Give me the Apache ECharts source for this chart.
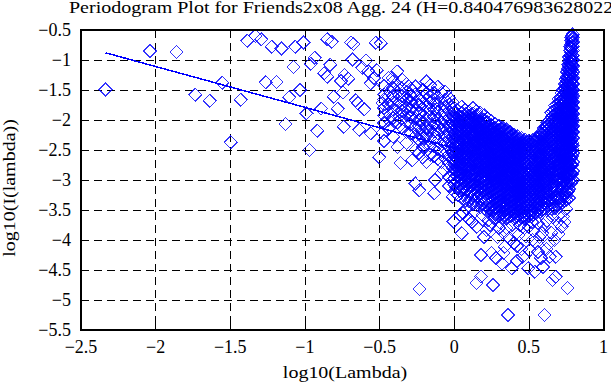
<!DOCTYPE html>
<html><head><meta charset="utf-8">
<script src="https://cdn.jsdelivr.net/npm/echarts@6/dist/echarts.min.js"></script>
<style>
html,body{margin:0;padding:0;background:#fff;}
#chart{width:611px;height:385px;}
#chart svg path{shape-rendering:crispEdges;}
</style></head><body><div id="chart"></div>
<script>
// ---- data ----
const titleText = 'Periodogram Plot for Friends2x08 Agg. 24 (H=0.840476983628022)';
const xName = 'log10(Lambda)';
const yName = 'log10(I(lambda))';
const xRange = [-2.5, 1, 0.5];
const yRange = [-5.5, -0.5, 0.5];

// fitted line end points
const fitX = [-2.336, 0.798];
const fitY = [-0.88, -3.014];

// individually readable points (left sparse part)
const sparsePts = [
[-2.336,-1.49],[-2.037,-0.85],[-1.86,-0.87],[-1.736,-1.58],[-1.637,-1.68],[-1.555,-1.38],[-1.497,-2.37],[-1.43,-1.66],
[-1.386,-0.68],[-1.333,-0.6],[-1.293,-0.655],[-1.263,-1.37],[-1.223,-0.78],[-1.19,-1.37],[-1.157,-0.81],[-1.13,-2.07],
[-1.106,-1.62],[-1.077,-1.12],[-1.064,-0.78],[-1.033,-1.5],[-1.01,-0.71],[-0.99,-1.89],[-0.97,-2.5],[-0.961,-1.06],
[-0.935,-0.96],[-0.917,-2.18],[-0.891,-1.81],[-0.87,-1.22],[-0.851,-1.28],[-0.851,-0.655],[-0.83,-1.08],[-0.82,-0.695],
[-0.807,-1.61],[-0.78,-1.81],[-0.758,-1.35],[-0.745,-1.54],[-0.74,-2.11],[-0.735,-1.25],[-0.71,-1.31],[-0.692,-0.71],
[-0.675,-0.73],[-0.681,-0.99],[-0.659,-1.67],[-0.647,-1.72],[-0.636,-2.16],[-0.617,-1.13],[-0.603,-1.82],[-0.592,-1.01],
[-0.575,-1.19],[-0.559,-2.22],[-0.56,-1.39],[-0.537,-1.3],[-0.526,-0.71],[-0.519,-1.17],[-0.503,-2.62],[-0.493,-0.72],
[-0.481,-1.72],[-0.48,-2.22]
];

// scattered points around the dense cloud (lower halo and outliers)
const haloPts = [
[-0.005,-3.69],[0.04,-3.58],[0.05,-3.89],[0.06,-3.55],[0.1,-3.65],[0.15,-3.78],[0.13,-3.55],[0.216,-3.83],[0.227,-3.67],
[0.27,-3.64],[0.3,-3.8],[0.338,-4.11],[0.37,-3.97],[0.35,-3.8],[0.415,-3.89],[0.44,-3.75],[0.48,-3.94],[0.525,-4.0],
[0.5,-3.78],[0.56,-3.72],[0.59,-3.89],[0.62,-3.68],[0.635,-4.06],[0.66,-3.62],[0.7,-3.6],[0.72,-3.78],[0.73,-3.61],[0.75,-3.48],
[0.18,-4.25],[0.25,-4.22],[0.33,-4.22],[0.32,-4.39],[0.385,-4.47],[0.46,-4.28],[0.495,-4.47],[0.505,-4.17],[0.54,-4.53],
[0.595,-4.45],[0.64,-4.28],[0.68,-4.28],[0.42,-4.1],[0.56,-4.2],
[0.149,-4.72],[0.18,-4.61],[0.26,-4.75],[0.36,-5.25],[0.603,-5.25],[0.658,-4.67],[0.68,-4.61],[0.758,-4.8],[-0.232,-4.82],
[-0.382,-1.19],[-0.415,-1.3],[-0.349,-1.33],[-0.36,-2.72],[-0.282,-2.67],[-0.128,-3.0],[-0.072,-2.83],
[0.08,-3.48],[0.12,-3.7],[0.19,-3.58],[0.2,-3.95],[0.24,-3.75],[0.29,-3.95],[0.31,-3.72],[0.33,-3.88],[0.39,-3.75],
[0.4,-4.05],[0.43,-3.92],[0.45,-4.15],[0.47,-3.8],[0.52,-3.7],[0.53,-3.85],[0.55,-4.05],[0.57,-3.95],[0.6,-3.75],
[0.62,-4.15],[0.65,-3.88],[0.67,-4.0],[0.69,-3.7],[0.7,-3.9],[0.74,-3.7],[0.28,-4.3],[0.42,-4.35],[0.58,-4.3]
];

// middle band, x from -0.5 to 0 (columns of points)
const bandX = [-0.47,-0.44,-0.41,-0.38,-0.35,-0.32,-0.29,-0.26,-0.235,-0.21,-0.185,-0.16,-0.135,-0.11,-0.085,-0.06,-0.035,-0.01];
const bandY = [
[-1.43,-1.58,-1.66,-1.8,-1.93,-2.05,-2.35],
[-1.3,-1.5,-1.62,-1.74,-1.88,-2.0,-2.14],
[-1.36,-1.47,-1.6,-1.71,-1.83,-1.97,-2.28],
[-1.42,-1.55,-1.67,-1.78,-1.9,-2.04,-2.45],
[-1.47,-1.6,-1.73,-1.85,-1.98,-2.12],
[-1.4,-1.53,-1.66,-1.79,-1.91,-2.03,-2.2,-2.38],
[-1.48,-1.6,-1.7,-1.83,-1.95,-2.08,-2.22],
[-1.44,-1.57,-1.71,-1.85,-1.98,-2.12,-2.27,-2.5,-3.06],
[-1.64,-1.75,-1.88,-2.0,-2.1,-2.21,-2.33,-2.55,-3.17],
[-1.5,-1.62,-1.73,-1.84,-1.96,-2.06,-2.18,-2.3,-2.45,-2.62],
[-1.36,-1.56,-1.67,-1.78,-1.9,-2.02,-2.14,-2.26,-2.4,-2.7],
[-1.42,-1.6,-1.71,-1.82,-1.94,-2.05,-2.17,-2.3,-2.43,-2.58],
[-1.55,-1.72,-1.83,-1.95,-2.07,-2.19,-2.31,-2.44,-2.6,-3.22],
[-1.45,-1.62,-1.74,-1.86,-1.98,-2.1,-2.22,-2.35,-2.48,-2.65],
[-1.55,-1.68,-1.8,-1.92,-2.04,-2.16,-2.28,-2.4,-2.53,-2.7,-2.88],
[-1.53,-1.66,-1.78,-1.9,-2.02,-2.14,-2.26,-2.38,-2.5,-2.64],
[-1.62,-1.74,-1.86,-1.98,-2.1,-2.22,-2.34,-2.46,-2.58,-2.72,-2.95,-3.1],
[-1.7,-1.82,-1.94,-2.06,-2.18,-2.3,-2.42,-2.54,-2.66,-2.8,-3.0,-3.28]
];

// dense cloud, x from 0 to 0.8 (columns of points)
const coreX = [0,0.025,0.05,0.075,0.1,0.125,0.15,0.175,0.2,0.225,0.25,0.275,0.3,0.325,0.35,0.375,0.4,0.425,0.45,0.475,0.5,0.525,0.55,0.575,0.6,0.625,0.65,0.675,0.7,0.72,0.74,0.755,0.77,0.783,0.795];
const coreY = [
[-1.8,-1.87,-1.95,-2.02,-2.09,-2.16,-2.24,-2.31,-2.38,-2.45,-2.53,-2.6,-2.67,-2.74,-2.82,-2.9,-2.98,-3.07,-3.2],
[-1.84,-1.91,-1.98,-2.06,-2.13,-2.2,-2.27,-2.35,-2.42,-2.49,-2.56,-2.64,-2.71,-2.78,-2.86,-2.94,-3.03,-3.12,-3.25],
[-1.78,-1.88,-1.95,-2.02,-2.1,-2.17,-2.24,-2.31,-2.39,-2.46,-2.53,-2.6,-2.68,-2.75,-2.82,-2.9,-2.98,-3.06,-3.16,-3.3],
[-1.83,-1.9,-1.97,-2.05,-2.12,-2.19,-2.27,-2.34,-2.41,-2.48,-2.56,-2.63,-2.7,-2.77,-2.85,-2.93,-3.01,-3.1,-3.2,-3.34],
[-1.86,-1.93,-2.0,-2.08,-2.15,-2.22,-2.29,-2.37,-2.44,-2.51,-2.58,-2.66,-2.73,-2.8,-2.88,-2.96,-3.04,-3.13,-3.23,-3.36],
[-1.8,-1.89,-1.96,-2.03,-2.11,-2.18,-2.25,-2.32,-2.4,-2.47,-2.54,-2.61,-2.69,-2.76,-2.83,-2.91,-2.99,-3.07,-3.16,-3.26,-3.4],
[-1.85,-1.92,-1.99,-2.07,-2.14,-2.21,-2.28,-2.36,-2.43,-2.5,-2.57,-2.65,-2.72,-2.79,-2.86,-2.94,-3.02,-3.1,-3.19,-3.29,-3.42],
[-1.88,-1.95,-2.03,-2.1,-2.17,-2.24,-2.32,-2.39,-2.46,-2.53,-2.61,-2.68,-2.75,-2.82,-2.9,-2.97,-3.05,-3.13,-3.22,-3.32,-3.45],
[-1.92,-1.99,-2.06,-2.14,-2.21,-2.28,-2.35,-2.43,-2.5,-2.57,-2.64,-2.72,-2.79,-2.86,-2.93,-3.01,-3.09,-3.17,-3.26,-3.36,-3.48],
[-1.97,-2.04,-2.11,-2.18,-2.26,-2.33,-2.4,-2.47,-2.55,-2.62,-2.69,-2.76,-2.84,-2.91,-2.98,-3.06,-3.14,-3.22,-3.31,-3.41,-3.52],
[-2.02,-2.09,-2.16,-2.24,-2.31,-2.38,-2.45,-2.53,-2.6,-2.67,-2.74,-2.82,-2.89,-2.96,-3.03,-3.11,-3.19,-3.27,-3.35,-3.44,-3.55],
[-2.06,-2.13,-2.2,-2.28,-2.35,-2.42,-2.49,-2.57,-2.64,-2.71,-2.78,-2.86,-2.93,-3.0,-3.07,-3.15,-3.23,-3.31,-3.39,-3.48,-3.58],
[-2.1,-2.17,-2.24,-2.31,-2.39,-2.46,-2.53,-2.6,-2.68,-2.75,-2.82,-2.89,-2.97,-3.04,-3.11,-3.19,-3.27,-3.35,-3.43,-3.51,-3.6],
[-2.13,-2.2,-2.27,-2.35,-2.42,-2.49,-2.56,-2.64,-2.71,-2.78,-2.85,-2.93,-3.0,-3.07,-3.14,-3.22,-3.3,-3.38,-3.46,-3.54,-3.62],
[-2.16,-2.23,-2.3,-2.38,-2.45,-2.52,-2.59,-2.67,-2.74,-2.81,-2.88,-2.96,-3.03,-3.1,-3.17,-3.25,-3.33,-3.41,-3.49,-3.57,-3.64],
[-2.2,-2.27,-2.34,-2.41,-2.49,-2.56,-2.63,-2.7,-2.78,-2.85,-2.92,-2.99,-3.07,-3.14,-3.21,-3.29,-3.37,-3.45,-3.53,-3.61],
[-2.24,-2.31,-2.38,-2.45,-2.52,-2.6,-2.67,-2.74,-2.81,-2.89,-2.96,-3.03,-3.1,-3.18,-3.25,-3.33,-3.41,-3.49,-3.56,-3.64],
[-2.27,-2.34,-2.41,-2.48,-2.56,-2.63,-2.7,-2.77,-2.85,-2.92,-2.99,-3.06,-3.14,-3.21,-3.28,-3.36,-3.44,-3.52,-3.6,-3.67],
[-2.3,-2.37,-2.44,-2.51,-2.59,-2.66,-2.73,-2.8,-2.88,-2.95,-3.02,-3.09,-3.17,-3.24,-3.31,-3.39,-3.47,-3.55,-3.62],
[-2.33,-2.4,-2.47,-2.55,-2.62,-2.69,-2.76,-2.84,-2.91,-2.98,-3.05,-3.13,-3.2,-3.27,-3.35,-3.43,-3.51,-3.58,-3.65],
[-2.35,-2.42,-2.49,-2.56,-2.64,-2.71,-2.78,-2.85,-2.93,-3.0,-3.07,-3.14,-3.22,-3.29,-3.36,-3.44,-3.52,-3.6],
[-2.34,-2.41,-2.48,-2.55,-2.63,-2.7,-2.77,-2.84,-2.92,-2.99,-3.06,-3.13,-3.21,-3.28,-3.35,-3.43,-3.51,-3.58],
[-2.3,-2.37,-2.44,-2.51,-2.59,-2.66,-2.73,-2.8,-2.88,-2.95,-3.02,-3.09,-3.17,-3.24,-3.31,-3.39,-3.47,-3.55],
[-2.22,-2.29,-2.36,-2.43,-2.51,-2.58,-2.65,-2.72,-2.8,-2.87,-2.94,-3.01,-3.09,-3.16,-3.23,-3.31,-3.39,-3.47,-3.53],
[-2.14,-2.21,-2.28,-2.35,-2.43,-2.5,-2.57,-2.64,-2.72,-2.79,-2.86,-2.93,-3.01,-3.08,-3.15,-3.23,-3.31,-3.39,-3.48],
[-2.04,-2.11,-2.18,-2.25,-2.33,-2.4,-2.47,-2.54,-2.62,-2.69,-2.76,-2.83,-2.91,-2.98,-3.05,-3.13,-3.21,-3.29,-3.37,-3.45],
[-1.88,-1.95,-2.02,-2.1,-2.17,-2.24,-2.31,-2.39,-2.46,-2.53,-2.6,-2.68,-2.75,-2.82,-2.89,-2.97,-3.05,-3.13,-3.21,-3.29,-3.38,-3.48],
[-1.76,-1.83,-1.9,-1.98,-2.05,-2.12,-2.19,-2.27,-2.34,-2.41,-2.48,-2.56,-2.63,-2.7,-2.77,-2.85,-2.93,-3.01,-3.09,-3.17,-3.26,-3.36,-3.47],
[-1.65,-1.72,-1.79,-1.87,-1.94,-2.01,-2.08,-2.16,-2.23,-2.3,-2.37,-2.45,-2.52,-2.59,-2.66,-2.74,-2.82,-2.9,-2.98,-3.06,-3.15,-3.25,-3.36,-3.45],
[-1.55,-1.62,-1.69,-1.77,-1.84,-1.91,-1.98,-2.06,-2.13,-2.2,-2.27,-2.35,-2.42,-2.49,-2.56,-2.64,-2.72,-2.8,-2.88,-2.96,-3.05,-3.15,-3.25,-3.38],
[-1.4,-1.47,-1.54,-1.62,-1.69,-1.76,-1.83,-1.91,-1.98,-2.05,-2.12,-2.2,-2.27,-2.34,-2.41,-2.49,-2.57,-2.65,-2.73,-2.81,-2.9,-3.0,-3.1,-3.22,-3.35],
[-1.2,-1.28,-1.35,-1.43,-1.5,-1.58,-1.65,-1.73,-1.8,-1.88,-1.95,-2.03,-2.1,-2.18,-2.25,-2.33,-2.4,-2.48,-2.56,-2.64,-2.72,-2.8,-2.89,-2.98,-3.08,-3.2,-3.33],
[-0.95,-1.02,-1.1,-1.17,-1.25,-1.32,-1.4,-1.47,-1.55,-1.62,-1.7,-1.77,-1.85,-1.92,-2.0,-2.07,-2.15,-2.22,-2.3,-2.37,-2.45,-2.53,-2.61,-2.7,-2.8,-2.9,-3.02,-3.15,-3.3],
[-0.62,-0.68,-0.74,-0.8,-0.87,-0.94,-1.01,-1.08,-1.15,-1.22,-1.29,-1.36,-1.44,-1.52,-1.6,-1.68,-1.76,-1.84,-1.92,-2.0,-2.08,-2.16,-2.24,-2.33,-2.42,-2.52,-2.63,-2.75,-2.9,-3.05],
[-0.57,-0.63,-0.7,-0.77,-0.84,-0.92,-1.0,-1.1,-1.2,-1.3,-1.4,-1.5,-1.6,-1.7,-1.8,-1.9,-2.0,-2.1,-2.2,-2.3,-2.42,-2.55,-2.7,-2.85,-3.0]
];

// dense cloud, in-between columns
const core2X = [0.0125,0.0375,0.0625,0.0875,0.1125,0.1375,0.1625,0.1875,0.2125,0.2375,0.2625,0.2875,0.3125,0.3375,0.3625,0.3875,0.4125,0.4375,0.4625,0.4875,0.5125,0.5375,0.5625,0.5875,0.6125,0.6375,0.6625,0.6875,0.71,0.73,0.748,0.763,0.777,0.789];
const core2Y = [
[-1.97,-2.04,-2.12,-2.19,-2.26,-2.34,-2.41,-2.48,-2.55,-2.63,-2.7,-2.77,-2.85,-2.93,-3.02,-3.12],
[-1.95,-2.02,-2.1,-2.17,-2.24,-2.31,-2.39,-2.46,-2.53,-2.6,-2.68,-2.75,-2.82,-2.9,-2.99,-3.08,-3.18],
[-1.93,-2.0,-2.08,-2.15,-2.22,-2.3,-2.37,-2.44,-2.52,-2.59,-2.66,-2.73,-2.81,-2.89,-2.97,-3.05,-3.14,-3.25],
[-1.97,-2.04,-2.11,-2.18,-2.26,-2.33,-2.4,-2.47,-2.55,-2.62,-2.69,-2.77,-2.84,-2.92,-3.0,-3.08,-3.17,-3.28],
[-1.91,-1.98,-2.05,-2.12,-2.2,-2.27,-2.34,-2.41,-2.49,-2.56,-2.63,-2.7,-2.78,-2.85,-2.93,-3.01,-3.1,-3.2,-3.31],
[-1.95,-2.02,-2.09,-2.17,-2.24,-2.31,-2.38,-2.46,-2.53,-2.6,-2.67,-2.75,-2.82,-2.9,-2.98,-3.06,-3.14,-3.24,-3.35],
[-1.98,-2.05,-2.12,-2.19,-2.27,-2.34,-2.41,-2.48,-2.56,-2.63,-2.7,-2.78,-2.85,-2.93,-3.01,-3.09,-3.17,-3.27,-3.38],
[-2.0,-2.07,-2.15,-2.22,-2.29,-2.36,-2.44,-2.51,-2.58,-2.65,-2.73,-2.8,-2.87,-2.95,-3.03,-3.11,-3.19,-3.29,-3.4],
[-2.05,-2.12,-2.2,-2.27,-2.34,-2.41,-2.49,-2.56,-2.63,-2.7,-2.78,-2.85,-2.92,-3.0,-3.08,-3.16,-3.24,-3.33,-3.44],
[-2.1,-2.17,-2.25,-2.32,-2.39,-2.46,-2.54,-2.61,-2.68,-2.75,-2.83,-2.9,-2.97,-3.05,-3.13,-3.21,-3.29,-3.38,-3.48],
[-2.14,-2.21,-2.29,-2.36,-2.43,-2.5,-2.58,-2.65,-2.72,-2.79,-2.87,-2.94,-3.01,-3.09,-3.17,-3.25,-3.33,-3.42,-3.51],
[-2.18,-2.25,-2.33,-2.4,-2.47,-2.54,-2.62,-2.69,-2.76,-2.83,-2.91,-2.98,-3.05,-3.13,-3.21,-3.29,-3.37,-3.46,-3.54],
[-2.15,-2.22,-2.29,-2.37,-2.44,-2.51,-2.58,-2.66,-2.73,-2.8,-2.87,-2.95,-3.02,-3.09,-3.17,-3.25,-3.33,-3.41,-3.49,-3.57],
[-2.18,-2.25,-2.32,-2.4,-2.47,-2.54,-2.61,-2.69,-2.76,-2.83,-2.9,-2.98,-3.05,-3.12,-3.2,-3.28,-3.36,-3.44,-3.52,-3.59],
[-2.22,-2.29,-2.36,-2.44,-2.51,-2.58,-2.65,-2.73,-2.8,-2.87,-2.94,-3.02,-3.09,-3.16,-3.24,-3.32,-3.4,-3.48,-3.56],
[-2.25,-2.32,-2.39,-2.47,-2.54,-2.61,-2.68,-2.76,-2.83,-2.9,-2.97,-3.05,-3.12,-3.19,-3.27,-3.35,-3.43,-3.51,-3.59],
[-2.29,-2.36,-2.43,-2.5,-2.58,-2.65,-2.72,-2.79,-2.87,-2.94,-3.01,-3.08,-3.16,-3.23,-3.31,-3.39,-3.47,-3.55,-3.62],
[-2.32,-2.39,-2.46,-2.53,-2.61,-2.68,-2.75,-2.82,-2.9,-2.97,-3.04,-3.11,-3.19,-3.26,-3.34,-3.42,-3.5,-3.58],
[-2.35,-2.42,-2.49,-2.56,-2.64,-2.71,-2.78,-2.85,-2.93,-3.0,-3.07,-3.14,-3.22,-3.29,-3.37,-3.45,-3.53,-3.6],
[-2.37,-2.44,-2.51,-2.59,-2.66,-2.73,-2.8,-2.88,-2.95,-3.02,-3.09,-3.17,-3.24,-3.31,-3.39,-3.47,-3.55],
[-2.38,-2.45,-2.52,-2.6,-2.67,-2.74,-2.81,-2.89,-2.96,-3.03,-3.1,-3.18,-3.25,-3.32,-3.4,-3.48,-3.56],
[-2.36,-2.43,-2.5,-2.58,-2.65,-2.72,-2.79,-2.87,-2.94,-3.01,-3.08,-3.16,-3.23,-3.3,-3.38,-3.46,-3.54],
[-2.3,-2.37,-2.44,-2.52,-2.59,-2.66,-2.73,-2.81,-2.88,-2.95,-3.02,-3.1,-3.17,-3.24,-3.32,-3.4,-3.5],
[-2.22,-2.29,-2.36,-2.44,-2.51,-2.58,-2.65,-2.73,-2.8,-2.87,-2.94,-3.02,-3.09,-3.16,-3.24,-3.32,-3.41,-3.5],
[-2.12,-2.19,-2.26,-2.34,-2.41,-2.48,-2.55,-2.63,-2.7,-2.77,-2.84,-2.92,-2.99,-3.06,-3.14,-3.22,-3.3,-3.39,-3.47],
[-2.0,-2.07,-2.14,-2.22,-2.29,-2.36,-2.43,-2.51,-2.58,-2.65,-2.72,-2.8,-2.87,-2.94,-3.02,-3.1,-3.18,-3.26,-3.35,-3.45],
[-1.86,-1.93,-2.0,-2.08,-2.15,-2.22,-2.29,-2.37,-2.44,-2.51,-2.58,-2.66,-2.73,-2.8,-2.88,-2.96,-3.04,-3.12,-3.21,-3.31,-3.42],
[-1.74,-1.81,-1.88,-1.96,-2.03,-2.1,-2.17,-2.25,-2.32,-2.39,-2.46,-2.54,-2.61,-2.68,-2.76,-2.84,-2.92,-3.0,-3.09,-3.19,-3.3,-3.42],
[-1.62,-1.69,-1.76,-1.84,-1.91,-1.98,-2.05,-2.13,-2.2,-2.27,-2.34,-2.42,-2.49,-2.56,-2.64,-2.72,-2.8,-2.88,-2.97,-3.06,-3.17,-3.3],
[-1.5,-1.57,-1.64,-1.72,-1.79,-1.86,-1.93,-2.01,-2.08,-2.15,-2.22,-2.3,-2.37,-2.44,-2.52,-2.6,-2.68,-2.76,-2.85,-2.94,-3.04,-3.15,-3.28],
[-1.32,-1.4,-1.47,-1.55,-1.62,-1.7,-1.77,-1.85,-1.92,-2.0,-2.07,-2.15,-2.22,-2.3,-2.37,-2.45,-2.53,-2.61,-2.69,-2.77,-2.86,-2.95,-3.05,-3.16,-3.28],
[-1.08,-1.15,-1.23,-1.3,-1.38,-1.45,-1.53,-1.6,-1.68,-1.75,-1.83,-1.9,-1.98,-2.05,-2.13,-2.2,-2.28,-2.35,-2.43,-2.51,-2.59,-2.67,-2.76,-2.85,-2.95,-3.06,-3.18],
[-0.78,-0.85,-0.92,-0.99,-1.06,-1.13,-1.2,-1.27,-1.34,-1.41,-1.48,-1.56,-1.64,-1.72,-1.8,-1.88,-1.96,-2.04,-2.12,-2.2,-2.28,-2.36,-2.45,-2.54,-2.64,-2.75,-2.88,-3.0],
[-0.6,-0.66,-0.72,-0.79,-0.86,-0.93,-1.0,-1.08,-1.16,-1.24,-1.32,-1.4,-1.48,-1.56,-1.64,-1.72,-1.8,-1.88,-1.96,-2.04,-2.12,-2.2,-2.29,-2.38,-2.48,-2.6,-2.75,-2.9]
];

// ---- build ----
const pts = [];
sparsePts.forEach(p => pts.push(p));
bandX.forEach((x, i) => bandY[i].forEach(y => pts.push([x, y])));
coreX.forEach((x, i) => coreY[i].forEach(y => pts.push([x, y])));
core2X.forEach((x, i) => core2Y[i].forEach(y => pts.push([x, y])));
haloPts.forEach(p => pts.push(p));
const fitData = fitX.map((x, i) => [x, fitY[i]]);

const FONT = '"Liberation Serif", "Times New Roman", serif';
const fmt = v => String(+(+v).toFixed(1)).replace('-', '\u2212');
const tickStyle = { show: true, inside: true, length: 7, lineStyle: { color: '#000', width: 1 } };
const splitStyle = { show: true, lineStyle: { color: '#000', width: 1, type: [8, 5] } };

function axisPair(isX, range) {
  const base = { type: 'value', min: range[0], max: range[1], interval: range[2], scale: true };
  const main = Object.assign({}, base, {
    position: isX ? 'bottom' : 'left',
    axisLine: { show: false },
    axisTick: tickStyle,
    splitLine: splitStyle,
    axisLabel: { show: true, formatter: fmt, color: '#000', fontFamily: FONT, fontSize: 18,
                 margin: isX ? 8 : 10, showMinLabel: true, showMaxLabel: true, hideOverlap: false }
  });
  const mirror = Object.assign({}, base, {
    position: isX ? 'top' : 'right',
    axisLine: { show: false }, axisTick: tickStyle, splitLine: { show: false }, axisLabel: { show: false }
  });
  return [main, mirror];
}

const chart = echarts.init(document.getElementById('chart'), null, { renderer: 'svg', width: 611, height: 385 });
chart.setOption({
  animation: false,
  backgroundColor: '#fff',
  grid: { left: 81, right: 3, top: 30, bottom: 55, show: true, borderColor: '#000', borderWidth: 2, backgroundColor: 'rgba(0,0,0,0)', z: 10 },
  xAxis: axisPair(true, xRange),
  yAxis: axisPair(false, yRange),
  series: [
    { type: 'scatter', data: pts, symbol: 'diamond', symbolSize: 13, silent: true, progressive: 0,
      itemStyle: { color: 'rgba(0,0,0,0)', borderColor: '#0000ff', borderWidth: 1 } },
    { type: 'line', data: fitData, symbol: 'none', showSymbol: false, silent: true,
      lineStyle: { color: '#0000ff', width: 1.5 } }
  ],
  graphic: [
    { type: 'text', x: 69, y: 7, scaleY: 0.85, silent: true,
      style: { text: titleText, font: '20px ' + FONT, fill: '#000', textAlign: 'left', textVerticalAlign: 'middle', align: 'left', verticalAlign: 'middle' } },
    { type: 'text', x: 345, y: 372, scaleY: 0.85, silent: true,
      style: { text: xName, font: '20px ' + FONT, fill: '#000', textAlign: 'center', textVerticalAlign: 'middle', align: 'center', verticalAlign: 'middle' } },
    { type: 'text', x: 9, y: 188, rotation: Math.PI / 2, scaleY: 0.85, silent: true,
      style: { text: yName, font: '20px ' + FONT, fill: '#000', textAlign: 'center', textVerticalAlign: 'middle', align: 'center', verticalAlign: 'middle' } }
  ]
});
</script></body></html>
